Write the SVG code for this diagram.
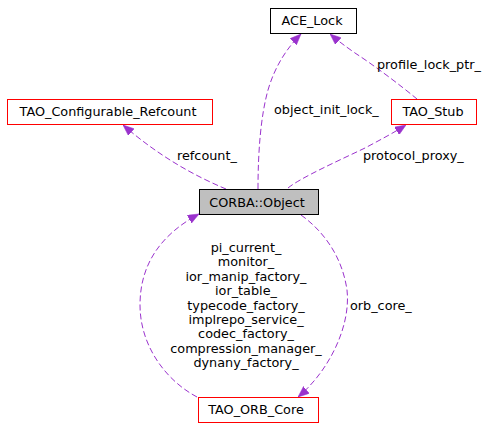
<svg xmlns="http://www.w3.org/2000/svg" width="483" height="429" viewBox="0 0 483 429">
<style>
text{font-family:"DejaVu Sans","Liberation Sans",sans-serif;font-size:12.8px;fill:#000}
.n rect{stroke-width:1}
.blk{fill:#fff;stroke:#000}
.red{fill:#fff;stroke:#ff0000}
.cur{fill:#bfbfbf;stroke:#000}
.nt{text-anchor:middle}
.e{fill:none;stroke:#9a32cd;stroke-width:1;stroke-dasharray:6,3;marker-end:url(#ah)}
.lm{text-anchor:middle}
</style>
<defs>
<marker id="ah" viewBox="0 0 11 9" refX="11" refY="4.5" markerWidth="11" markerHeight="9" markerUnits="userSpaceOnUse" orient="auto">
<path d="M0,0 L11,4.5 L0,9 z" fill="#9a32cd" stroke="#9a32cd" stroke-width="0.5"/>
</marker>
</defs>
<g id="connectors">
<path class="e" d="M226,189 C195,176 160,157 123,125"/>
<path class="e" d="M258,189 C258,150 261,115 268,90 C275,66 287,48 301,34"/>
<path class="e" d="M417,99 C400,85 375,66 355,53 C345,46 337,40 330,34"/>
<path class="e" d="M288,188 C300,178 340,160 365,148 C380,140 395,132 406,125"/>
<path class="e" d="M301,215 C322,230 342,255 347,290 C351,325 330,370 298,397"/>
<path class="e" d="M197,397 C165,380 140,345 140,305 C140,265 160,235 199,214"/>
<text x="177" y="160">refcount_</text>
<text x="274" y="114">object_init_lock_</text>
<text x="377" y="69">profile_lock_ptr_</text>
<text x="363" y="160">protocol_proxy_</text>
<text x="350" y="310">orb_core_</text>
<g class="lm">
<text x="246" y="252">pi_current_</text>
<text x="246" y="266.4">monitor_</text>
<text x="246" y="280.8">ior_manip_factory_</text>
<text x="246" y="295.2">ior_table_</text>
<text x="246" y="309.6">typecode_factory_</text>
<text x="246" y="324">implrepo_service_</text>
<text x="246" y="338.4">codec_factory_</text>
<text x="246" y="352.8">compression_manager_</text>
<text x="246" y="367.2">dynany_factory_</text>
</g>
</g>
<g id="ACE_Lock" class="n">
<rect class="blk" x="270.5" y="8.5" width="86" height="25"/>
<text class="nt" x="312" y="25">ACE_Lock</text>
</g>
<g id="TAO_Configurable_Refcount" class="n">
<rect class="red" x="7.5" y="99.5" width="205" height="25"/>
<text class="nt" x="108" y="116">TAO_Configurable_Refcount</text>
</g>
<g id="TAO_Stub" class="n">
<rect class="red" x="391.5" y="99.5" width="85" height="25"/>
<text class="nt" x="433" y="116">TAO_Stub</text>
</g>
<g id="CORBA_Object" class="n">
<rect class="cur" x="199.5" y="189.5" width="119" height="25"/>
<text class="nt" x="257" y="207">CORBA::Object</text>
</g>
<g id="TAO_ORB_Core" class="n">
<rect class="red" x="198.5" y="397.5" width="120" height="25"/>
<text class="nt" x="256" y="414">TAO_ORB_Core</text>
</g>
</svg>
